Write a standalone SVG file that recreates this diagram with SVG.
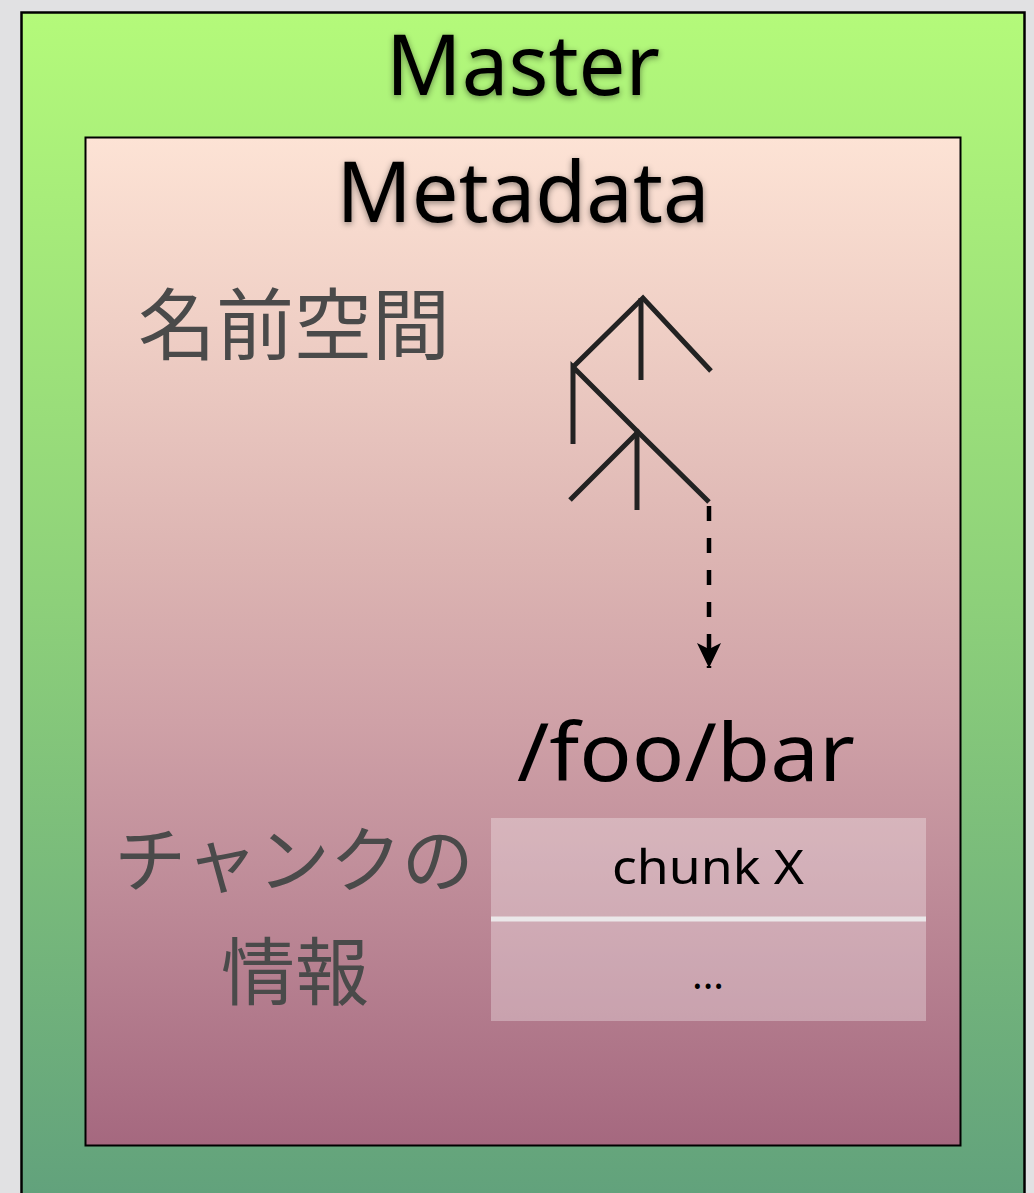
<svg xmlns="http://www.w3.org/2000/svg" width="1034" height="1193" viewBox="0 0 1034 1193">
  <defs>
    <linearGradient id="gMaster" x1="0" y1="12" x2="0" y2="1193" gradientUnits="userSpaceOnUse">
      <stop offset="0" stop-color="#b4fa7a"/>
      <stop offset="0.5" stop-color="#8dd07a"/>
      <stop offset="1" stop-color="#62a27c"/>
    </linearGradient>
    <linearGradient id="gMeta" x1="0" y1="137" x2="0" y2="1146" gradientUnits="userSpaceOnUse">
      <stop offset="0" stop-color="#fde3d5"/>
      <stop offset="0.18" stop-color="#f0d0c6"/>
      <stop offset="0.42" stop-color="#dcb4b2"/>
      <stop offset="0.58" stop-color="#cfa1a7"/>
      <stop offset="0.72" stop-color="#c18f9b"/>
      <stop offset="1" stop-color="#a5687f"/>
    </linearGradient>
    <filter id="glow" x="-10%" y="-30%" width="120%" height="160%">
      <feDropShadow dx="0" dy="2" stdDeviation="3" flood-color="#000" flood-opacity="0.45"/>
    </filter>
    <marker id="arrow" viewBox="0 0 25 24" refX="25" refY="12" markerWidth="25" markerHeight="24" markerUnits="userSpaceOnUse" orient="auto">
      <path d="M0,0 L6,12 L0,24 L25,12 Z" fill="#000"/>
    </marker>
    <style>
      .title { font-family: "Noto Sans", "Liberation Sans", sans-serif; fill: #000; filter: url(#glow); }
      .jp { font-family: "Noto Sans CJK JP", sans-serif; fill: #4a4a4a; }
      .lat { font-family: "Noto Sans", "Liberation Sans", sans-serif; fill: #000; }
      .tree { stroke: #222; stroke-width: 5; fill: none; stroke-linecap: butt; }
    </style>
  </defs>

  <rect x="0" y="0" width="1034" height="1193" fill="#e1e1e3"/>

  <g id="master">
    <rect x="21.5" y="12.5" width="1003" height="1200" fill="url(#gMaster)" stroke="#000" stroke-width="2.5"/>
    <text class="title" x="523" y="95" font-size="84" text-anchor="middle" textLength="274" lengthAdjust="spacingAndGlyphs">Master</text>
  </g>

  <g id="metadata">
    <rect x="85.5" y="137.5" width="875" height="1008" fill="url(#gMeta)" stroke="#000" stroke-width="2"/>
    <text class="title" x="523" y="222" font-size="84" text-anchor="middle" textLength="373" lengthAdjust="spacingAndGlyphs">Metadata</text>
  </g>

  <g id="namespace-label">
    <text class="jp" x="294" y="354" font-size="78" text-anchor="middle">名前空間</text>
  </g>

  <g id="tree">
    <polyline class="tree" points="573,367 643,298 711,371"/>
    <line class="tree" x1="641" y1="298" x2="641" y2="380"/>
    <polyline class="tree" points="573,444 573,367 638,432"/>
    <polyline class="tree" points="570,500 638,432 709,502"/>
    <line class="tree" x1="637" y1="432" x2="637" y2="510"/>
  </g>

  <g id="connectors">
    <line x1="709" y1="506" x2="709" y2="668" stroke="#000" stroke-width="4.5" stroke-dasharray="15 17" marker-end="url(#arrow)"/>
  </g>

  <g id="file-path">
    <text class="lat" x="686" y="781" font-size="80" text-anchor="middle" textLength="338" lengthAdjust="spacingAndGlyphs">/foo/bar</text>
  </g>

  <g id="chunk-label">
    <text class="jp" x="294" y="886" font-size="72" text-anchor="middle">チャンクの</text>
    <text class="jp" x="295" y="999" font-size="74" text-anchor="middle">情報</text>
  </g>

  <g id="chunk-table">
    <rect x="491" y="818" width="435" height="203" fill="#ffffff" fill-opacity="0.3"/>
    <line x1="491" y1="919" x2="926" y2="919" stroke="#ebe7e9" stroke-width="5"/>
    <text class="lat" x="708" y="884" font-size="48" text-anchor="middle" textLength="192" lengthAdjust="spacingAndGlyphs">chunk X</text>
    <text class="lat" x="708" y="989" font-size="40" text-anchor="middle">...</text>
  </g>
</svg>
